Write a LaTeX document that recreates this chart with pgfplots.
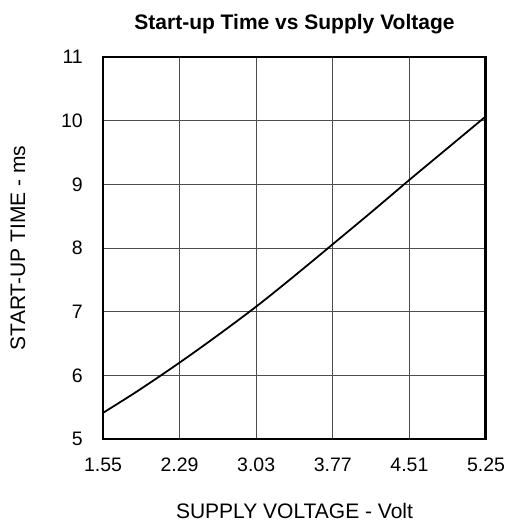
\documentclass[border=0pt]{standalone}
\usepackage{fontspec}
\setmainfont{Liberation Sans}
\usepackage{pgfplots}
\pgfplotsset{compat=1.18}
\begin{document}
\begin{tikzpicture}
\useasboundingbox (-103pt,-86pt) rectangle (408pt,439pt);
\begin{axis}[
  scale only axis,
  anchor=south west, at={(0pt,0pt)},
  width=383pt, height=382pt,
  xmin=1.55, xmax=5.25, ymin=5, ymax=11,
  xtick={1.55,2.29,3.03,3.77,4.51,5.25},
  xticklabels={1.55,2.29,3.03,3.77,4.51,5.25},
  ytick={5,6,7,8,9,10,11},
  /pgf/number format/assume math mode=true,
  tick label style={font=\fontsize{19.5}{22}\selectfont, inner sep=0pt},
  xticklabel style={anchor=base, yshift=-32pt},
  yticklabel style={anchor=east, xshift=-20pt},
  major tick length=0pt,
  grid=major,
  grid style={line width=1pt, color=black!70},
  axis line style={line width=1.6pt},
  title={Start-up Time vs Supply Voltage},
  title style={font=\fontsize{21}{24}\selectfont\bfseries, at={(axis description cs:0.5,1)}, anchor=base, yshift=22pt, inner sep=0pt},
  xlabel={SUPPLY VOLTAGE - Volt},
  ylabel={START-UP TIME - ms},
  label style={font=\fontsize{21}{24}\selectfont},
  xlabel style={at={(axis description cs:0.5,0)}, anchor=base, yshift=-79pt, inner sep=0pt},
  ylabel style={at={(axis description cs:-0.222,0.5)}, anchor=center, inner sep=0pt},
]
\addplot[black, line width=1.8pt, smooth] coordinates {
(1.55,5.41) (1.90,5.77) (2.29,6.20) (2.66,6.63) (3.03,7.08) (3.30,7.43)
(3.60,7.83) (3.77,8.06) (4.14,8.56) (4.51,9.07) (4.88,9.57) (5.25,10.07)
};
\draw[line width=3.5pt] (axis cs:5.25,5) -- (axis cs:5.25,11);
\end{axis}
\end{tikzpicture}
\end{document}
